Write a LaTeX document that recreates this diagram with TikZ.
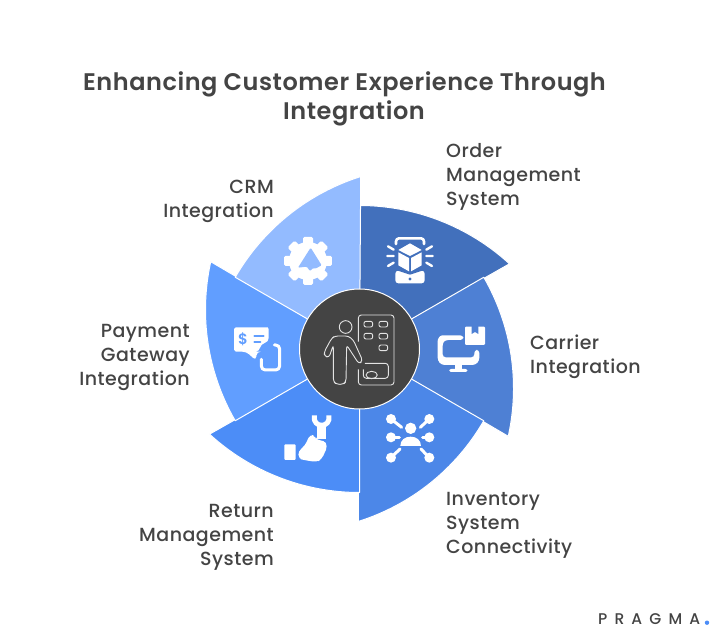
\documentclass[tikz,border=0pt]{standalone}
\usepackage{fontspec}
\setmainfont[LetterSpace=2.5]{Poppins Medium}
\newfontfamily\titlefont[LetterSpace=2.3]{Poppins SemiBold}
\newfontfamily\logofont[LetterSpace=46]{Poppins Medium}
\newfontfamily\symfont{Poppins SemiBold}
\definecolor{txt}{HTML}{444444}
\definecolor{dark}{HTML}{444444}
\definecolor{cA}{HTML}{4270BC}
\definecolor{cB}{HTML}{4E80D4}
\definecolor{cC}{HTML}{4C87E8}
\definecolor{cD}{HTML}{4C8DF7}
\definecolor{cE}{HTML}{619EFF}
\definecolor{cF}{HTML}{93BBFF}
\tikzset{
  wedge/.style={draw=white,line width=1pt,line join=round},
  label/.style={text=txt,font=\fontsize{19}{24}\selectfont,inner sep=0pt},
  titlestyle/.style={text=txt,font=\titlefont\fontsize{24}{29}\selectfont,inner sep=0pt},
  ln/.style={draw=white,line cap=round,line join=round},
  thin/.style={draw=white!85!dark,line width=0.9pt,line join=round,rounded corners=1pt}
}
\newcommand{\sect}[2]{\fill[#2,wedge] (0,0) -- (#1:143.5pt) arc[start angle=#1,delta angle=-42.5,radius=222pt] -- cycle;}
\begin{document}
\begin{tikzpicture}[x=1pt,y=-1pt]
\useasboundingbox (0,0) rectangle (720,636);
\fill[white] (0,0) rectangle (720,636);
\begin{scope}[shift={(359.5,349)},y=1pt]
\sect{90}{cA}
\sect{30}{cB}
\sect{-30}{cC}
\sect{-90}{cD}
\sect{-150}{cE}
\sect{150}{cF}
\end{scope}
\node[circle,fill=dark,draw=white,line width=1pt,minimum size=120pt,inner sep=0pt] (hub) at (359.5,349) {};
% text
\node[titlestyle,anchor=base] (title1) at (344.5,90.5) {Enhancing Customer Experience Through};
\node[titlestyle,anchor=base] (title2) at (354,119.5) {Integration};
\node[label,anchor=west,align=left] (order) at (446,177) {Order\\Management\\System};
\node[label,anchor=west,align=left] (carrier) at (530,357) {Carrier\\Integration};
\node[label,anchor=west,align=left] (inv) at (446,525) {Inventory\\System\\Connectivity};
\node[label,anchor=east,align=right] (ret) at (274,537) {Return\\Management\\System};
\node[label,anchor=east,align=right] (pay) at (190,357) {Payment\\Gateway\\Integration};
\node[label,anchor=east,align=right] (crm) at (274,201) {CRM\\Integration};
\node[anchor=west,inner sep=0pt,text=txt,font=\logofont\fontsize{15.5}{18}\selectfont] (logo) at (598,619.5) {PRAGMA};
\fill[cD] (707,622.7) circle (2.2pt);
% Order icon
\begin{scope}[shift={(380,230)},x=0.3333pt,y=-0.3333pt]
\draw[ln,line width=2.6pt,rounded corners=3pt] (48,42) -- (48,25) -- (132,25) -- (132,42);
\fill[white,rounded corners=3pt] (46,122) -- (134,122) -- (134,160) -- (46,160) -- cycle;
\fill[cA] (90,147) circle (5);
\fill[cA] (44,112) -- (136,112) -- (136,119) -- (90,134) -- (44,119) -- cycle;
\fill[white] (90,40) -- (125,60) -- (90,78) -- (55,60) -- cycle;
\fill[white] (55,67) -- (87,84) -- (87,124) -- (55,106) -- cycle;
\fill[white] (125,67) -- (93,84) -- (93,124) -- (125,106) -- cycle;
\draw[ln,line width=2.4pt] (24,49)--(41,59) (22,78)--(41,78) (24,108)--(41,98);
\draw[ln,line width=2.4pt] (156,49)--(139,59) (158,78)--(139,78) (156,108)--(139,98);
\end{scope}
% Carrier icon
\begin{scope}[shift={(430,320)},x=0.3333pt,y=-0.3333pt]
\fill[white,rounded corners=3pt] (23,72) .. controls (23,56) and (30,46) .. (46,46) -- (100,46) -- (100,60) -- (46,60) -- (38,68) -- (38,112) -- (133,112) -- (133,90) -- (148,90) -- (148,122) -- (136,135) -- (35,135) -- (23,122) -- cycle;
\fill[white] (76,133) rectangle (95,150);
\fill[white,rounded corners=2pt] (58,147) rectangle (112,156);
\fill[white,rounded corners=1pt] (105,20) -- (165,20) -- (165,75) -- (105,75) -- cycle;
\fill[cB] (125,18) -- (145,18) -- (145,42) -- (135,36) -- (125,42) -- cycle;
\end{scope}
% Inventory icon
\begin{scope}[shift={(270,390)},x=0.3333pt,y=-0.3333pt]
\fill[white] (422,115) circle (17);
\fill[white] (391,168) .. controls (391,150) and (405,140) .. (422,140) .. controls (439,140) and (453,150) .. (453,168) -- cycle;
\foreach \a/\b/\c/\d in {363/87/395/112, 478/87/451/112, 363/142/388/142, 478/142/458/142, 363/203/390/177, 478/203/453/177}{
  \fill[white] (\a,\b) circle (15);
  \draw[ln,line width=3pt] (\a,\b) -- (\c,\d);
}
\end{scope}
% Return icon
\begin{scope}[shift={(270,390)},x=0.3333pt,y=-0.3333pt]
\draw[ln,line width=5pt,line cap=butt] (133,76) .. controls (126,116) and (184,116) .. (177,76);
\fill[white] (142,112) rectangle (168,148);
\fill[white,rounded corners=1pt] (43,163) rectangle (77,210);
\fill[white,rounded corners=4pt] (85,183) -- (105,167) -- (120,133) -- (136,138) -- (140,152) -- (162,150) -- (173,168) -- (155,208) -- (140,216) -- (100,210) -- (85,205) -- cycle;
\end{scope}
% Payment icon
\begin{scope}[shift={(228,320)},x=0.3333pt,y=-0.3333pt]
\fill[white,rounded corners=4pt] (18,38) .. controls (18,28) and (25,22) .. (35,22) -- (108,22) .. controls (117,22) and (122,28) .. (122,38) -- (122,66) -- (98,72) -- (94,95) -- (86,95) -- (84,122) -- (55,95) -- (35,95) .. controls (25,95) and (18,88) .. (18,78) -- cycle;
\node[text=cE,font=\symfont\fontsize{15}{15}\selectfont,inner sep=0pt] (dollar) at (45,59) {\$};
\draw[draw=cE,line width=2pt,line cap=round] (79,47) -- (107,47) (79,65) -- (97,65);
\draw[ln,line width=3pt,rounded corners=4pt] (139,75) -- (155,75) -- (155,150) -- (100,150) -- (100,118);
\end{scope}
% CRM gear
\begin{scope}[shift={(278,232)},x=0.3333pt,y=-0.3333pt]
\foreach \t in {0,45,...,315}{
  \fill[white,rounded corners=1.5pt,rotate around={\t:(90,87)}] (75,15) rectangle (105,50);
}
\fill[white] (90,87) circle (57);
\fill[cF,rounded corners=1pt] (98,47) -- (131,100) -- (112,110) -- (106,108) -- (96,117) -- (86,104) -- (60,107) -- cycle;
\end{scope}
% Hub icon
\begin{scope}[shift={(290,280)},x=0.3333pt,y=-0.3333pt]
\draw[thin] (167,141) circle (19);
\draw[thin,rounded corners=3pt] (135,168) -- (175,168) -- (190,180) -- (218,242) -- (207,252) -- (170,195) -- (168,305) -- (160,313) -- (140,313) -- (130,305) -- (130,195) -- (117,233) -- (103,228) -- (103,215) -- (125,175) -- cycle;
\draw[thin,rounded corners=3pt] (205,185) -- (205,105) -- (312,105) -- (312,315) -- (205,315) -- (205,268);
\foreach \a/\b in {222/124,267/124,222/160,267/160,267/195}{
  \draw[thin,rounded corners=2pt] (\a,\b) rectangle +(26,17);
}
\draw[thin,rounded corners=3pt] (220,268) -- (220,295) -- (295,295) -- (295,250) -- (225,250);
\draw[thin] (245,285) ellipse (17 and 11);
\end{scope}
\end{tikzpicture}
\end{document}
